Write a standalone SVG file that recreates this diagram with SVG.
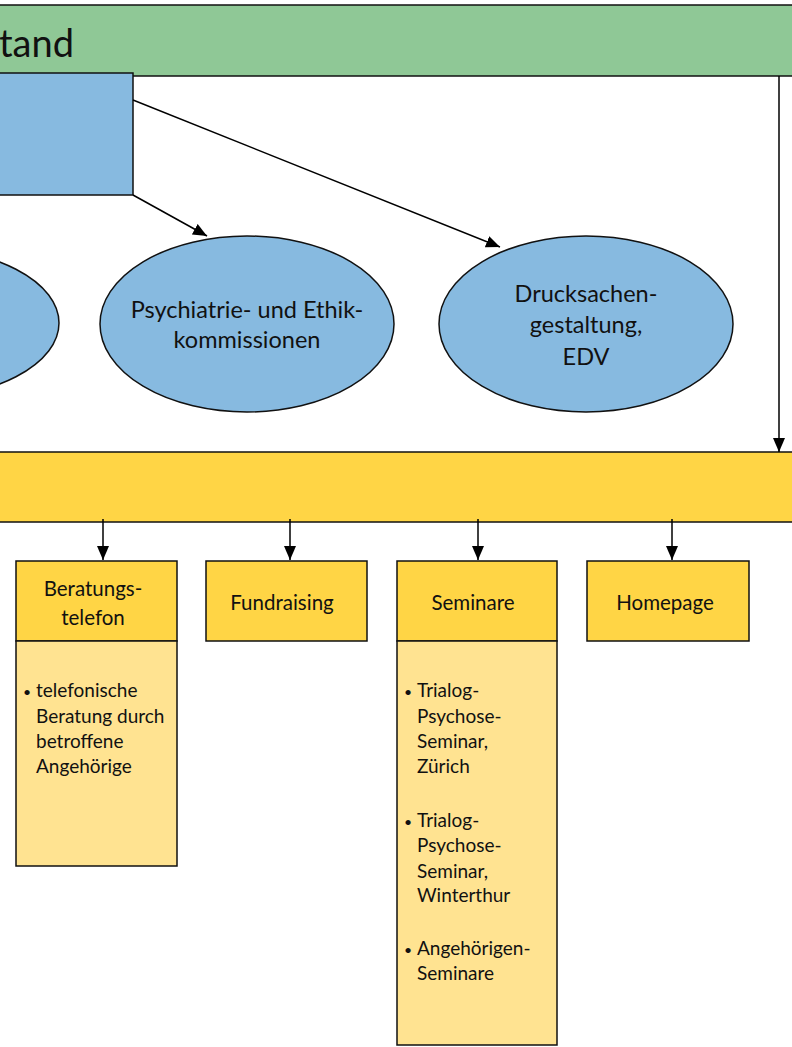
<svg xmlns="http://www.w3.org/2000/svg" width="792" height="1047" viewBox="0 0 792 1047">
<defs>
<marker id="ahb" viewBox="0 0 14 12" refX="14" refY="6" markerWidth="14" markerHeight="12" markerUnits="userSpaceOnUse" orient="auto">
<path d="M0,0 L14,6 L0,12 z" fill="#000"/>
</marker>
</defs>
<style>
.sh{stroke:#111;stroke-width:1.5}
.green{fill:#8FC896}
.blue{fill:#87BAE0}
.yel{fill:#FFD545}
.ly{fill:#FFE391}
text{font-family:Lato,"Open Sans","Liberation Sans",sans-serif;fill:#111}
.el{font-size:23.5px;text-anchor:middle}
.bx{font-size:20.5px;text-anchor:middle}
.li{font-size:19px}
.bu{font-size:14px}
.con{stroke:#000;stroke-width:1.5;fill:none}
</style>
<rect width="792" height="1047" fill="#fff"/>
<g id="vorstand">
<rect class="green sh" x="-10" y="5" width="812" height="71"/>
<text x="-1" y="57" font-size="38">tand</text>
</g>
<g id="blue-box">
<rect class="blue sh" x="-10" y="73" width="143" height="122"/>
</g>
<g id="ellipse-left">
<ellipse class="blue sh" cx="-88" cy="323" rx="147" ry="76"/>
</g>
<g id="psychiatrie">
<ellipse class="blue sh" cx="247" cy="324" rx="147" ry="88"/>
<text class="el" x="247" y="318">Psychiatrie- und Ethik-</text>
<text class="el" x="247" y="348">kommissionen</text>
</g>
<g id="drucksachen">
<ellipse class="blue sh" cx="586" cy="324" rx="147" ry="88"/>
<text class="el" x="586" y="302">Drucksachen-</text>
<text class="el" x="586" y="333">gestaltung,</text>
<text class="el" x="586" y="365">EDV</text>
</g>
<g id="yellow-bar">
<rect class="yel sh" x="-10" y="452" width="812" height="70"/>
</g>
<g id="beratungstelefon">
<rect class="yel sh" x="16" y="561" width="161" height="80"/>
<text class="bx" x="93" y="596">Beratungs-</text>
<text class="bx" x="93" y="625">telefon</text>
<rect class="ly sh" x="16" y="641" width="161" height="225"/>
<text class="li" x="23" y="697"><tspan class="bu">•</tspan><tspan x="36">telefonische</tspan></text>
<text class="li" x="36" y="723">Beratung durch</text>
<text class="li" x="36" y="748">betroffene</text>
<text class="li" x="36" y="773">Angehörige</text>
</g>
<g id="fundraising">
<rect class="yel sh" x="206" y="561" width="161" height="80"/>
<text class="bx" x="282" y="610">Fundraising</text>
</g>
<g id="seminare">
<rect class="yel sh" x="397" y="561" width="160" height="80"/>
<text class="bx" x="473" y="610">Seminare</text>
<rect class="ly sh" x="397" y="641" width="160" height="404"/>
<text class="li" x="404" y="697"><tspan class="bu">•</tspan><tspan x="417">Trialog-</tspan></text>
<text class="li" x="417" y="723">Psychose-</text>
<text class="li" x="417" y="748">Seminar,</text>
<text class="li" x="417" y="773">Zürich</text>
<text class="li" x="404" y="827"><tspan class="bu">•</tspan><tspan x="417">Trialog-</tspan></text>
<text class="li" x="417" y="852">Psychose-</text>
<text class="li" x="417" y="878">Seminar,</text>
<text class="li" x="417" y="902">Winterthur</text>
<text class="li" x="404" y="955"><tspan class="bu">•</tspan><tspan x="417">Angehörigen-</tspan></text>
<text class="li" x="417" y="980">Seminare</text>
</g>
<g id="homepage">
<rect class="yel sh" x="587" y="561" width="162" height="80"/>
<text class="bx" x="665" y="610">Homepage</text>
</g>
<g id="connectors">
<line class="con" x1="133" y1="100" x2="500" y2="247" marker-end="url(#ahb)"/>
<line class="con" x1="133" y1="195" x2="207" y2="236" marker-end="url(#ahb)"/>
<line class="con" x1="779" y1="76" x2="779" y2="452" marker-end="url(#ahb)"/>
<line class="con" x1="103" y1="519" x2="103" y2="560" marker-end="url(#ahb)"/>
<line class="con" x1="290" y1="519" x2="290" y2="560" marker-end="url(#ahb)"/>
<line class="con" x1="478" y1="519" x2="478" y2="560" marker-end="url(#ahb)"/>
<line class="con" x1="672" y1="519" x2="672" y2="560" marker-end="url(#ahb)"/>
</g>
</svg>
